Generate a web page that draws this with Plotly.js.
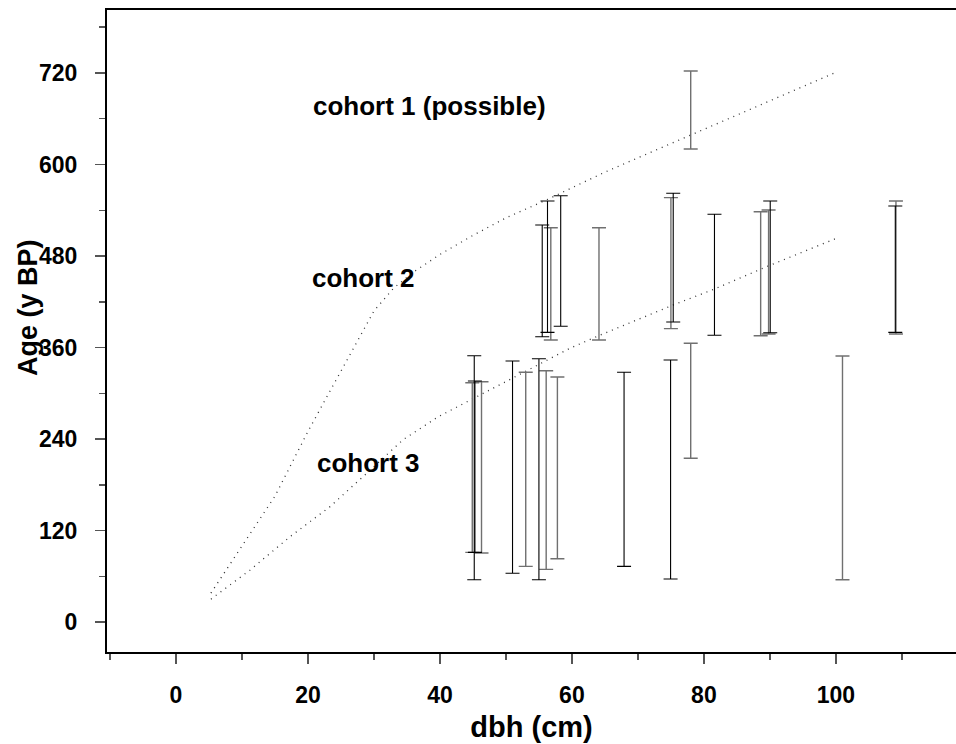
<!DOCTYPE html>
<html>
<head>
<meta charset="utf-8">
<script src="https://cdn.plot.ly/plotly-3.0.1.min.js"></script>
<style>html,body{margin:0;padding:0;background:#fff;}#chart{width:956px;height:744px;}</style>
</head>
<body>
<div id="chart"></div>
<script>
// Radiocarbon age ranges (y BP) by stem diameter (dbh, cm)
var dbhBlack   = [45.2, 45.3, 51.0, 55.0, 67.9, 74.95, 55.5, 56.3, 58.3, 75.35, 81.6, 90.05, 109.0];
var ageLoBlack = [55.5, 91.4, 63.9, 55.5, 73.0, 56.4, 374.2, 379.9, 387.8, 393.4, 376.0, 379.4, 379.9];
var ageHiBlack = [349.2, 316.0, 342.3, 345.3, 327.5, 343.6, 520.7, 552.1, 559.1, 562.2, 534.7, 552.1, 545.6];

var dbhGray   = [44.9, 46.3, 53.0, 56.1, 57.8, 78.0, 101.0, 56.8, 64.1, 75.0, 88.6, 89.8, 109.1, 78.0];
var ageLoGray = [91.4, 90.5, 73.0, 69.1, 83.0, 214.7, 55.5, 369.8, 369.8, 384.7, 375.5, 377.7, 377.7, 620.3];
var ageHiGray = [313.8, 315.0, 327.5, 329.6, 321.3, 365.5, 348.9, 517.1, 517.1, 556.5, 538.1, 540.3, 552.1, 722.6];

// Cohort boundary curves
var upperX = [5.3, 10, 15, 20, 25, 30, 33, 36, 40, 45, 50, 56, 65, 73, 85, 100.3];
var upperY = [38, 100, 165, 250, 330, 408, 438, 459, 482, 507, 530, 553, 590, 620, 665, 722];
var lowerX = [5.3, 11.2, 17.3, 23.3, 28.9, 34.4, 39.7, 50, 59.7, 64.2, 75.4, 81.4, 89.5, 100.3];
var lowerY = [30, 68, 112, 151, 195, 239, 269, 315, 359, 376, 416, 436, 466, 504];

var labels = ['cohort 1 (possible)', 'cohort 2', 'cohort 3'];
var labelX = [38.4, 28.4, 29.1];
var labelY = [677, 451, 208.5];

function mids(lo, hi){ return lo.map(function(v,i){ return (v + hi[i]) / 2; }); }
function halves(lo, hi){ return lo.map(function(v,i){ return (hi[i] - v) / 2; }); }

function barTrace(x, lo, hi, color, th){
  return {
    type: 'scatter', mode: 'markers', x: x, y: mids(lo, hi),
    marker: {size: 1, opacity: 0},
    error_y: {type: 'data', symmetric: true, array: halves(lo, hi),
              color: color, thickness: th, width: 7},
    showlegend: false, hoverinfo: 'skip'
  };
}

var traces = [
  {type: 'scatter', mode: 'lines', x: upperX, y: upperY,
   line: {color: '#333', width: 1.3, dash: '1px,5px'}, showlegend: false, hoverinfo: 'skip'},
  {type: 'scatter', mode: 'lines', x: lowerX, y: lowerY,
   line: {color: '#333', width: 1.3, dash: '1px,5px'}, showlegend: false, hoverinfo: 'skip'},
  barTrace(dbhGray, ageLoGray, ageHiGray, '#707070', 1.4),
  barTrace(dbhBlack, ageLoBlack, ageHiBlack, '#000', 1.1)
];

var fontFam = 'Liberation Sans, Arial, Helvetica, sans-serif';
var W = 956, H = 744, ML = 107, MR = 0, MT = 10, MB = 92;

var annots = labels.map(function(t, i){
  return {x: labelX[i], y: labelY[i], xref: 'x', yref: 'y', text: '<b>' + t + '</b>',
          showarrow: false, font: {family: fontFam, size: 26, color: '#000'}};
});
// y-axis title, placed in paper coordinates (relative to plot area)
annots.push({
  x: (28 - ML) / (W - ML - MR), y: (H - MB - 308) / (H - MT - MB),
  xref: 'paper', yref: 'paper', xanchor: 'center', yanchor: 'middle',
  text: '<b>Age (y BP)</b>', showarrow: false, textangle: -90,
  font: {family: fontFam, size: 27, color: '#000'}
});

var layout = {
  width: W, height: H,
  margin: {l: ML, r: MR, t: MT, b: MB, pad: 0},
  paper_bgcolor: '#fff', plot_bgcolor: '#fff',
  font: {family: fontFam, color: '#000'},
  xaxis: {
    range: [-10.45, 118.2], showgrid: false, zeroline: false,
    showline: true, linecolor: '#000', linewidth: 2, mirror: true,
    ticks: 'outside', ticklen: 10, tickwidth: 1.5, tickcolor: '#555',
    tick0: 0, dtick: 20,
    minor: {dtick: 10, ticks: 'outside', ticklen: 6, tickwidth: 1.5, tickcolor: '#555'},
    tickfont: {family: fontFam, size: 23, color: '#000', weight: 'bold'},
    ticklabelstandoff: 11,
    title: {text: '<b>dbh (cm)</b>', font: {family: fontFam, size: 29, color: '#000'}, standoff: 10}
  },
  yaxis: {
    range: [-39.3, 802.6], showgrid: false, zeroline: false,
    showline: true, linecolor: '#000', linewidth: 2,
    ticks: 'outside', ticklen: 10, tickwidth: 1.5, tickcolor: '#555',
    tick0: 0, dtick: 120,
    minor: {dtick: 60, ticks: 'outside', ticklen: 6, tickwidth: 1.5, tickcolor: '#555'},
    tickfont: {family: fontFam, size: 23, color: '#000', weight: 'bold'},
    ticklabelstandoff: 13
  },
  annotations: annots
};

Plotly.newPlot('chart', traces, layout, {staticPlot: true, displayModeBar: false});
</script>
</body>
</html>
